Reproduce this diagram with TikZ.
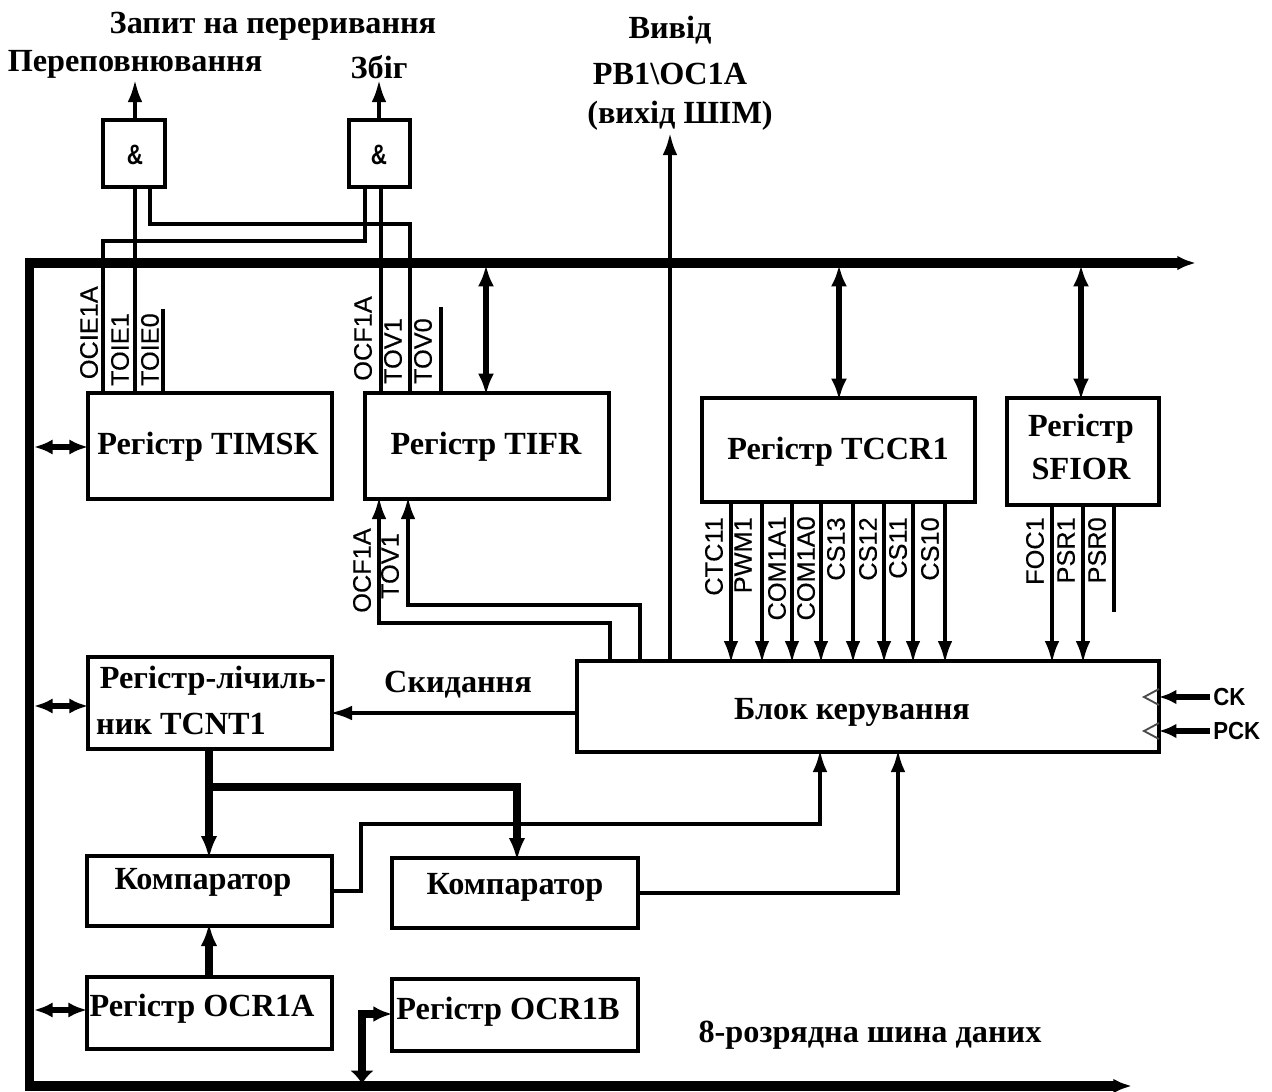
\documentclass[tikz,border=0pt]{standalone}
\usepackage{fontspec}
\setmainfont{Liberation Serif}
\setsansfont{Liberation Sans}
\newfontfamily\labfont[FakeBold=0.3]{Liberation Sans}
\usetikzlibrary{arrows.meta}
\tikzset{
  blk/.style={draw=black,line width=3.4pt,fill=white,inner sep=0pt,outer sep=0pt},
  wire/.style={line width=3.2pt,draw=black},
  heavy/.style={line width=5.6pt,draw=black},
  bus/.style={line width=6.8pt,draw=black},
  tip/.style={-{Latex[length=17pt,width=11pt]},shorten >=-2pt},
  tipheavy/.style={-{Latex[length=17pt,width=12.5pt]},shorten >=-2pt},
  dbl/.style={{Latex[length=16pt,width=12pt]}-{Latex[length=16pt,width=12pt]},line width=4.6pt,draw=black,shorten >=-1.5pt,shorten <=-1.5pt},
  dblshort/.style={{Latex[length=14pt,width=11.5pt]}-{Latex[length=14pt,width=11.5pt]},line width=4pt,draw=black},
  reg/.style={inner sep=0pt,font=\fontsize{24.2}{26}\selectfont\bfseries},
  vlab/.style={inner sep=0pt,rotate=90,anchor=east,font=\labfont\fontsize{19}{21}\selectfont},
  ckl/.style={inner sep=0pt,anchor=west,xscale=.9,font=\sffamily\bfseries\fontsize{18.5}{20}\selectfont},
  amp/.style={inner sep=0pt,xscale=.8,font=\sffamily\bfseries\fontsize{21}{23}\selectfont},
}
\newcommand{\rbox}[5]{\node[blk,minimum width={(#4-#2)*0.75pt},minimum height={(#5-#3)*0.75pt}] (#1) at ({(#2+#4)/2},{(#3+#5)/2}) {};}
\begin{document}
\begin{tikzpicture}[x=0.75pt,y=-0.75pt]
\useasboundingbox (0,0) rectangle (1272,1092);
% free ends
\coordinate (busTR) at (1196,263);
\coordinate (busTL) at (29.5,263);
\coordinate (busBL) at (29.5,1086);
\coordinate (busBR) at (1132,1086);
\coordinate (busIn) at (0,267);
\coordinate (busOut) at (34,0);
\coordinate (outA) at (135,82);
\coordinate (outB) at (379,82);
\coordinate (outPWM) at (670,135);
\coordinate (tap) at (209,787);
% bus
\draw[bus,{Latex[length=14pt,width=11pt]}-{Latex[length=14pt,width=11pt]}] (busBR) -- (busBL) -- (busTL) -- (busTR);
% boxes
\rbox{andA}{103}{120}{165}{187}
\rbox{andB}{349}{120}{410}{187}
\rbox{timsk}{88}{393}{332}{499}
\rbox{tifr}{365}{393}{609}{499}
\rbox{tccr}{702}{398}{975}{502}
\rbox{sfior}{1007}{398}{1159}{505}
\rbox{blok}{577}{661}{1159}{752}
\rbox{tcnt}{88}{657}{332}{749}
\rbox{cmpA}{87}{856}{332}{926}
\rbox{cmpB}{392}{858}{638}{928}
\rbox{ocrA}{87}{977}{332}{1049}
\rbox{ocrB}{392}{979}{638}{1051}
% labels
\node[reg] (t1) at (273,26) {Запит на переривання};
\node[reg] (t2) at (135,64) {Переповнювання};
\node[reg] (t3) at (379,67) {Збіг};
\node[reg] (t4) at (670,30) {Вивід};
\node[reg] (t5) at (670,74) {PB1\textbackslash OC1A};
\node[reg] (t6) at (680,116) {(вихід ШІМ)};
\node[reg] (t7) at (870,1035) {8-розрядна шина даних};
\node[amp] (a1) at (135,155) {\&};
\node[amp] (a2) at (379,155) {\&};
\node[reg] (l1) at (208,447) {Регістр TIMSK};
\node[reg] (l2) at (486,447) {Регістр TIFR};
\node[reg] (l3) at (838,452) {Регістр TCCR1};
\node[reg] (l4a) at (1081,429) {Регістр};
\node[reg] (l4b) at (1081,469) {SFIOR};
\node[reg] (l5a) at (213,681) {Регістр-лічиль-};
\node[reg] (l5b) at (181,724) {ник TCNT1};
\node[reg] (l6) at (203,882) {Компаратор};
\node[reg] (l7) at (515,887) {Компаратор};
\node[reg] (l8) at (202,1009) {Регістр OCR1A};
\node[reg] (l9) at (508,1012) {Регістр OCR1B};
\node[reg] (l10) at (852,712) {Блок керування};
\node[reg] (l11) at (458,685) {Скидання};
% AND outputs and inputs
\draw[wire,tip] (andA.north -| outA) -- (outA);
\draw[wire,tip] (andB.north -| outB) -- (outB);
\draw[wire] (andA.south -| 135,0) -- (timsk.north -| 135,0);
\draw[wire] (andA.south -| 150,0) -- (150,224) -- (410,224) -- (tifr.north -| 410,0);
\draw[wire] (andB.south -| 365,0) -- (365,241) -- (103,241) -- (timsk.north -| 103,0);
\draw[wire] (andB.south -| 381,0) -- (tifr.north -| 381,0);
\draw[wire] (timsk.north -| 163,0) -- (163,309);
\draw[wire] (tifr.north -| 441,0) -- (441,307);
% labels on register lines
\foreach \n/\x/\y/\t in {v1/89/286/OCIE1A,v2/120/313/TOIE1,v3/150/313/TOIE0,v4/363/296/OCF1A,v5/393/318/TOV1,v6/423/318/TOV0,
  v7/362/528/OCF1A,v8/390/533/TOV1,v9/714/517/CTC11,v10/743/517/PWM1,v11/777/516/COM1A1,v12/806/516/COM1A0,v13/836/517/CS13,v14/868/517/CS12,v15/898/517/CS11,v16/930/517/CS10,v17/1035/517/FOC1,v18/1066/517/PSR1,v19/1097/517/PSR0}
  {\node[vlab] (\n) at (\x,\y) {\t};}
% bus links
\draw[dbl] (tifr.north -| 486,0) -- (busIn -| 486,0);
\draw[dbl] (tccr.north -| 839,0) -- (busIn -| 839,0);
\draw[dbl] (sfior.north -| 1081,0) -- (busIn -| 1081,0);
\draw[dblshort] (busOut |- 0,447) -- (timsk.west |- 0,447);
\draw[dblshort] (busOut |- 0,706) -- (tcnt.west |- 0,706);
\draw[dblshort] (busOut |- 0,1010) -- (ocrA.west |- 0,1010);
% PWM output
\draw[wire,tip] (blok.north -| outPWM) -- (outPWM);
% control to TIFR
\draw[wire,tip] (blok.north -| 610,0) -- (610,623) -- (379,623) -- (tifr.south -| 379,0);
\draw[wire,tip] (blok.north -| 640,0) -- (640,605) -- (408,605) -- (tifr.south -| 408,0);
% TCCR1 / SFIOR to control
\foreach \x in {731,762,792,821,853,884,913,945}
  {\draw[wire,tip] (tccr.south -| \x,0) -- (blok.north -| \x,0);}
\foreach \x in {1052,1083}
  {\draw[wire,tip] (sfior.south -| \x,0) -- (blok.north -| \x,0);}
\draw[wire] (sfior.south -| 1114,0) -- (1114,612);
% reset
\draw[wire,tip] (blok.west |- 0,713) -- (tcnt.east |- 0,713);
% counter to comparators
\draw[heavy,tipheavy] (tcnt.south -| tap) -- (cmpA.north -| tap);
\draw[heavy,tipheavy] (tap) -- (517,787) -- (cmpB.north -| 517,0);
% comparators to control
\draw[wire,tip] (cmpA.east |- 0,891) -- (361,891) -- (361,824) -- (820,824) -- (blok.south -| 820,0);
\draw[wire,tip] (cmpB.east |- 0,893) -- (898,893) -- (blok.south -| 898,0);
% OCR1A to comparator
\draw[heavy,tipheavy] (ocrA.north -| tap) -- (cmpA.south -| tap);
% OCR1B to bus
\draw[line width=5.4pt,draw=black,{Latex[length=14pt,width=12pt]}-{Latex[length=10pt,width=18pt]}] (ocrB.west |- 0,1014) -- (362,1014) -- (362,1084);
% clocks
\node[ckl] (ck) at (1213,697) {CK};
\node[ckl] (pck) at (1213,731) {PCK};
\draw[wire,line width=3.8pt,-{Latex[length=13pt,width=11pt]}] (ck.west) ++(-3,0) -- (blok.east |- ck.west);
\draw[wire,line width=3.8pt,-{Latex[length=13pt,width=11pt]}] (pck.west) ++(-3,0) -- (blok.east |- pck.west);
\draw[line width=1.4pt,black!70] (1159,689) -- (1144,697) -- (1159,705);
\draw[line width=1.4pt,black!70] (1159,723) -- (1144,731) -- (1159,739);
\end{tikzpicture}
\end{document}
